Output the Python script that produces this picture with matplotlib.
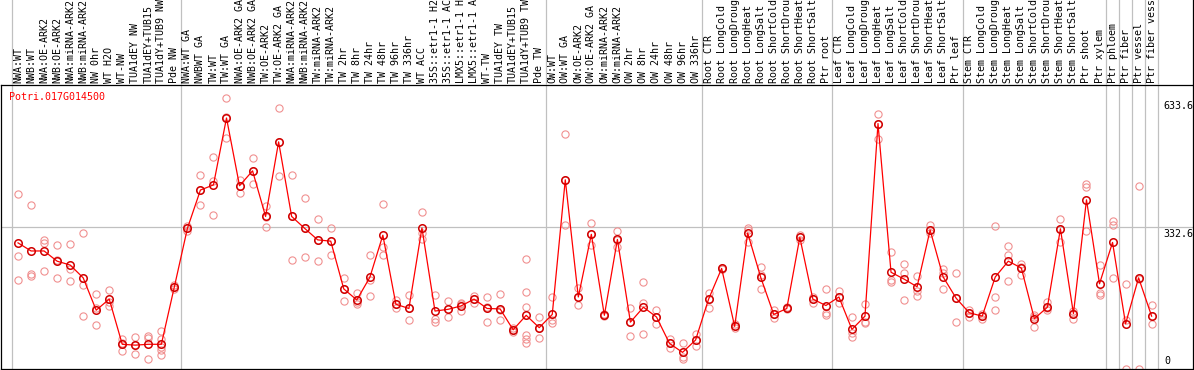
import matplotlib
matplotlib.use("Agg")
import matplotlib.pyplot as plt

# ---------------- data ----------------
gene = "Potri.017G014500"

categories = [
    "NWA:WT", "NWB:WT", "NWA:OE-ARK2", "NWB:OE-ARK2", "NWA:miRNA-ARK2", "NWB:miRNA-ARK2",
    "NW 0hr", "WT H2O", "WT-NW", "TUA1dEY NW", "TUA1dEY+TUB15", "TUA1dY+TUB9 NW", "Pde NW",
    "NWA:WT GA", "NWBWT GA", "TW:WT", "TW:WT GA", "NWA:OE-ARK2 GA", "NWB:OE-ARK2 GA",
    "TW:OE-ARK2", "TW:OE-ARK2 GA", "NWA:miRNA-ARK2", "NWB:miRNA-ARK2", "TW:miRNA-ARK2",
    "TW:miRNA-ARK2", "TW 2hr", "TW 8hr", "TW 24hr", "TW 48hr", "TW 96hr", "TW 336hr",
    "WT ACC", "35S::etr1-1 H2", "35S::etr1-1 AC", "LMX5::etr1-1 H", "LMX5::etr1-1 A",
    "WT-TW", "TUA1dEY TW", "TUA1dEY+TUB15", "TUA1dY+TUB9 TW", "Pde TW",
    "OW:WT", "OW:WT GA", "OW:OE-ARK2", "OW:OE-ARK2 GA", "OW:miRNA-ARK2", "OW:miRNA-ARK2",
    "OW 2hr", "OW 8hr", "OW 24hr", "OW 48hr", "OW 96hr", "OW 336hr",
    "Root CTR", "Root LongCold", "Root LongDroug", "Root LongHeat", "Root LongSalt",
    "Root ShortCold", "Root ShortDrou", "Root ShortHeat", "Root ShortSalt", "Ptr root",
    "Leaf CTR", "Leaf LongCold", "Leaf LongDroug", "Leaf LongHeat", "Leaf LongSalt",
    "Leaf ShortCold", "Leaf ShortDrou", "Leaf ShortHeat", "Leaf ShortSalt", "Ptr leaf",
    "Stem CTR", "Stem LongCold", "Stem LongDroug", "Stem LongHeat", "Stem LongSalt",
    "Stem ShortCold", "Stem ShortDrou", "Stem ShortHeat", "Stem ShortSalt", "Ptr shoot",
    "Ptr xylem", "Ptr phloem", "Ptr fiber", "Ptr vessel", "Ptr fiber vess",
]

means = [
    296, 277, 277, 253, 244, 214, 138, 164, 58, 56, 58, 58, 193,
    330, 420, 432, 589, 430, 465, 358, 533, 358, 330, 303, 300, 188, 162, 215, 314,
    152, 142, 331, 136, 140, 148, 164, 142, 141, 92, 126, 97,
    128, 444, 169, 316, 126, 304, 110, 145, 122, 60, 39, 68,
    164, 236, 100, 319, 215, 128, 142, 309, 164, 149,
    169, 93, 124, 576, 227, 211, 193, 326, 216, 166,
    132, 124, 216, 253, 237, 118, 145, 329, 130, 397, 200,
    297, 106, 214, 124,
]

replicates = [
    [411, 265, 210], [385, 223, 219], [303, 295, 230], [291, 213, 255], [293, 234, 207],
    [319, 197, 124], [176, 142, 103], [185, 149, 157], [70, 43, 60], [75, 36, 56],
    [78, 23, 73], [90, 70, 52, 45, 34], [197, 188, 193],
    [336, 330, 325], [455, 385, 420], [441, 362, 497], [635, 541, 591], [444, 412, 430],
    [495, 434, 465], [383, 333, 357], [612, 453, 533], [455, 256, 358], [401, 263, 330],
    [351, 253, 303], [331, 268, 300], [213, 160, 188], [179, 153, 158], [267, 171, 209],
    [387, 267, 287], [162, 142, 152], [173, 114, 142], [368, 305, 319], [173, 117, 111],
    [160, 121, 140], [154, 137, 153], [171, 154, 165], [168, 110, 146], [176, 115, 139],
    [96, 88, 91], [257, 180, 146, 79, 70, 60], [121, 73, 97],
    [169, 114, 109], [552, 338, 444], [191, 150, 169], [342, 291, 316], [128, 126, 124],
    [324, 287, 303], [142, 77, 110], [203, 156, 81], [139, 105, 122], [70, 49, 60],
    [60, 23, 29], [82, 55, 68],
    [178, 144, 164], [237, 235, 234], [96, 105, 100], [330, 299, 326], [240, 188, 221],
    [139, 119, 128], [145, 140, 142], [315, 303, 309], [170, 154, 164], [187, 131, 127],
    [182, 156, 169], [121, 84, 74], [152, 111, 107], [599, 539, 576], [274, 209, 204],
    [247, 225, 162], [218, 182, 172], [338, 319, 326], [234, 226, 187], [225, 110, 166],
    [139, 121, 132], [128, 117, 124], [335, 170, 139], [289, 268, 207], [247, 221, 240],
    [127, 99, 122], [158, 139, 144], [351, 297, 329], [135, 117, 132], [434, 428, 324],
    [244, 179, 174], [348, 337, 214], [200, 115, 0], [429, 0, 212], [150, 106, 124],
]

group_bounds = [0, 13, 41, 53, 63, 73, 84, 85, 86, 87, 88]
ytick_values = [0, 332.6, 633.6]
ytick_labels = ["0", "332.6", "633.6"]

# ---------------- layout ----------------
W, H = 1194, 370
fig = plt.figure(figsize=(W / 100, H / 100), dpi=100)
FONT = "DejaVu Sans Mono"
FS = 7.2
GRID = "#c0c0c0"

plot_left, plot_right = 1, 1193
plot_top, plot_bottom = 85, 369
x0_px, cell_px = 11.5, 13.03
ymax_px_val = 633.6
ymax_px = 99  # pixel row of 633.6

xlim = ((plot_left - x0_px) / cell_px, (plot_right - x0_px) / cell_px)
scale = (plot_bottom - ymax_px) / ymax_px_val
ylim = (0, (plot_bottom - plot_top) / scale)

ax = fig.add_axes([plot_left / W, (H - plot_bottom) / H,
                   (plot_right - plot_left) / W, (plot_bottom - plot_top) / H])
ax_lab = fig.add_axes([plot_left / W, (H - plot_top) / H,
                       (plot_right - plot_left) / W, plot_top / H])

for a in (ax, ax_lab):
    a.set_xlim(*xlim)
    a.set_xticks([])
    a.set_yticks([])
    a.patch.set_alpha(0)
ax.set_ylim(*ylim)
ax_lab.set_ylim(0, 1)

for s in ax.spines.values():
    s.set_linewidth(0.9)
    s.set_color("black")
for name, s in ax_lab.spines.items():
    s.set_visible(name == "right")
    s.set_linewidth(0.9)

# separators
for b in group_bounds:
    ax.axvline(b, color=GRID, lw=0.9, zorder=0)
    ax_lab.axvline(b, color=GRID, lw=0.9, zorder=0)
ax.axhline(ytick_values[1], color=GRID, lw=0.9, zorder=0)

# replicates
for i, reps in enumerate(replicates):
    ax.plot([i + 0.5] * len(reps), reps, linestyle="none", marker="o",
            markersize=5.2, markerfacecolor="none", markeredgecolor="#f09090",
            markeredgewidth=0.8, zorder=2, clip_on=True)

# mean line
xs = [i + 0.5 for i in range(len(means))]
ax.plot(xs, means, color="red", lw=0.9, zorder=3)
ax.plot(xs, means, linestyle="none", marker="o", markersize=5.4,
        markerfacecolor="none", markeredgecolor="#d00000", markeredgewidth=1.1, zorder=4)

# category labels
for i, lab in enumerate(categories):
    ax_lab.text(i + 0.5, 2 / plot_top, lab, rotation=90, ha="center", va="bottom",
                fontsize=FS, family=FONT, color="black")

# gene title
ax.text((9.3 - plot_left) / (plot_right - plot_left), 1 - 12 / (plot_bottom - plot_top),
        gene, transform=ax.transAxes, ha="left", va="center",
        fontsize=FS, family=FONT, color="red")

# right-side value labels
xf = (1163 - plot_left) / (plot_right - plot_left)
for v, t in zip(ytick_values, ytick_labels):
    if v == 0:
        ax.annotate(t, xy=(xf, v), xycoords=("axes fraction", "data"),
                    xytext=(1.5, 3), textcoords="offset pixels",
                    ha="left", va="bottom", fontsize=FS, family=FONT)
    else:
        ax.annotate(t, xy=(xf, v), xycoords=("axes fraction", "data"),
                    xytext=(0, -2), textcoords="offset pixels",
                    ha="left", va="top", fontsize=FS, family=FONT)

fig.savefig("out.png", dpi=100)
